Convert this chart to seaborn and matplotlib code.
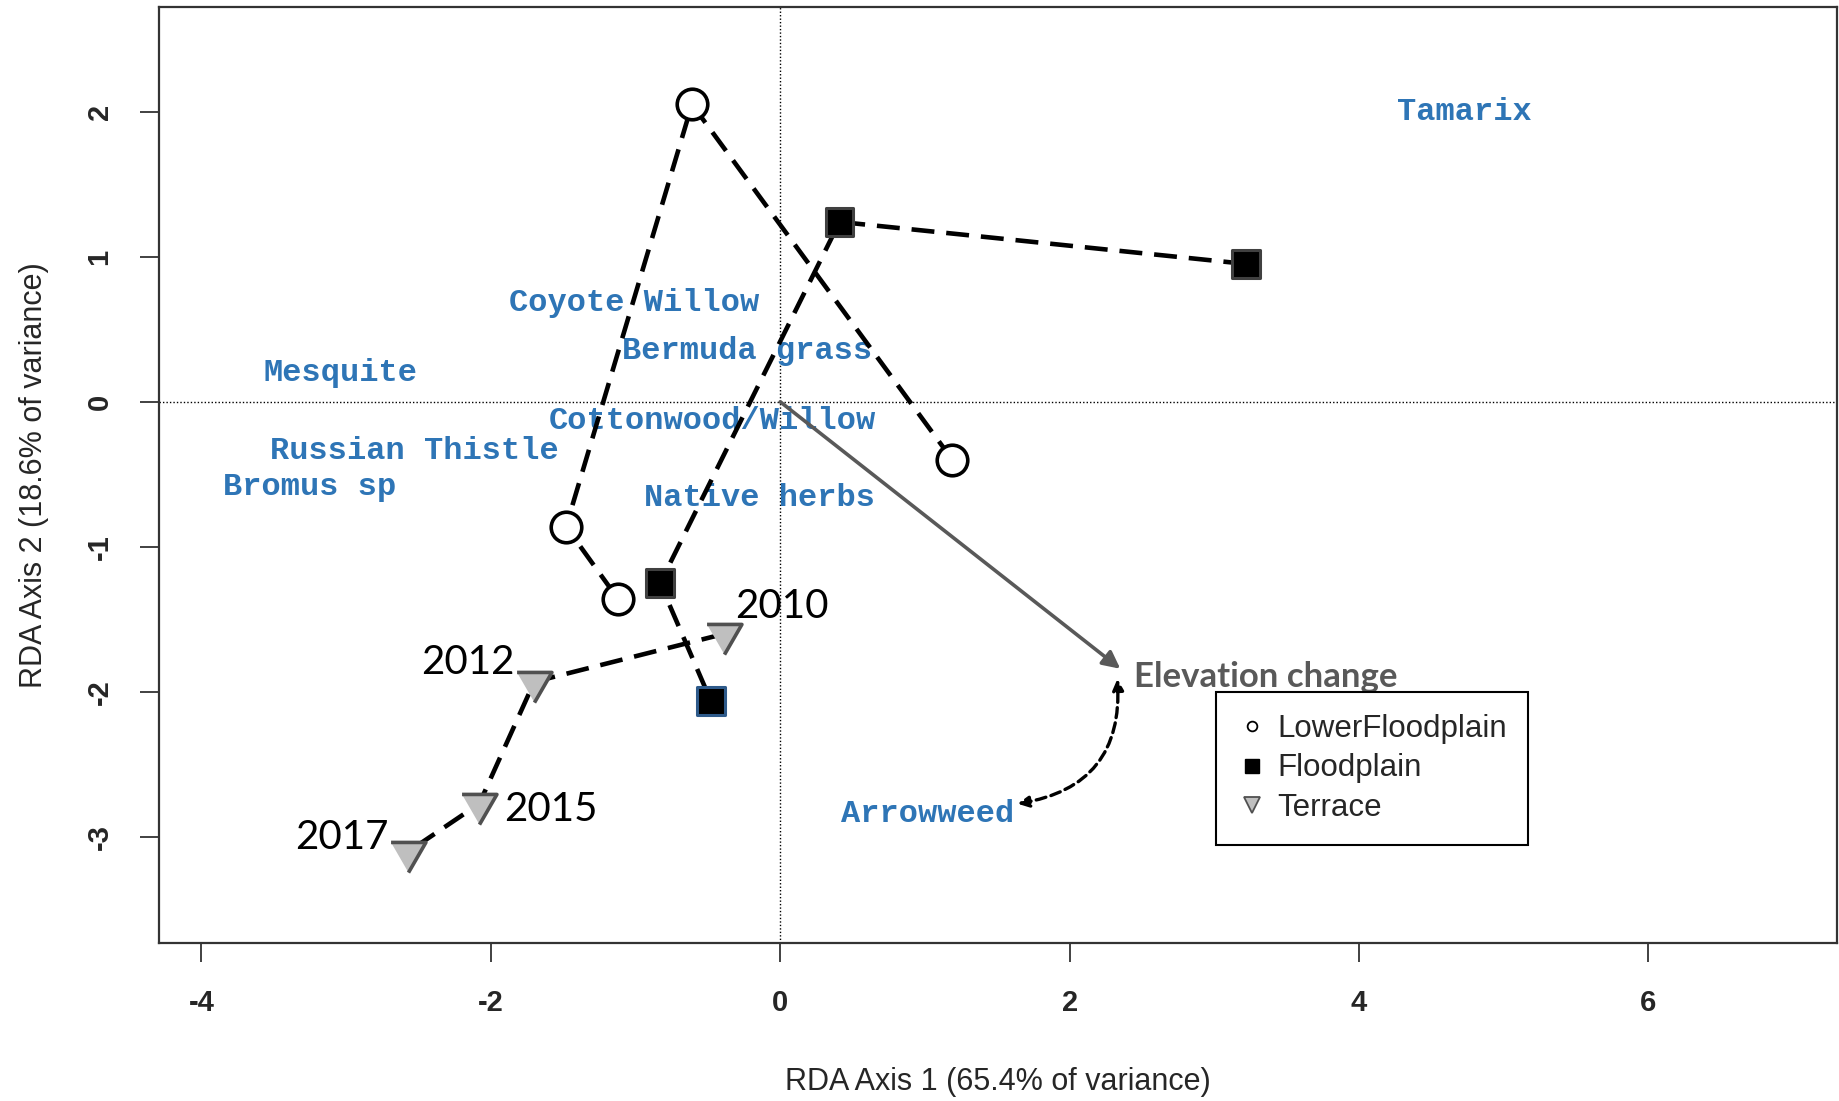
import matplotlib
matplotlib.use("Agg")
import matplotlib.pyplot as plt
import numpy as np
import pandas as pd
import seaborn as sns
from matplotlib.lines import Line2D

# Site scores per year (path order)
years = [2010, 2012, 2015, 2017]
lower_x = [1.19, -0.61, -1.48, -1.12]
lower_y = [-0.40, 2.05, -0.86, -1.36]
flood_x = [3.22, 0.41, -0.83, -0.48]
flood_y = [0.95, 1.24, -1.25, -2.06]
terrace_x = [-0.39, -1.70, -2.08, -2.57]
terrace_y = [-1.60, -1.93, -2.77, -3.10]

# Species scores
species = ["Tamarix", "Coyote Willow", "Bermuda grass", "Mesquite",
           "Cottonwood/Willow", "Russian Thistle", "Bromus sp",
           "Native herbs", "Arrowweed"]
species_x = [4.73, -1.01, -0.23, -3.04, -0.47, -2.53, -3.25, -0.14, 1.02]
species_y = [2.00, 0.68, 0.35, 0.20, -0.13, -0.34, -0.59, -0.66, -2.84]

# Environmental vector
env_name = "Elevation change"
env_x = 2.35
env_y = -1.84

site_names = ["LowerFloodplain", "Floodplain", "Terrace"]

sns.set_theme(style="white")
plt.rcParams["font.family"] = ["Liberation Sans", "DejaVu Sans"]
plt.rcParams["axes.unicode_minus"] = False

fig = plt.figure(figsize=(18.39, 11.01), dpi=100)
ax = fig.add_axes([0.0867, 0.1435, 0.912, 0.850])

BLUE = "#2E75B6"
GREY = "#595959"

# reference lines through the origin
ax.axhline(0, color="black", lw=1.0, ls=(0, (1, 1.5)), zorder=1)
ax.axvline(0, color="black", lw=1.0, ls=(0, (1, 1.5)), zorder=1)

# species labels
for name, sx, sy in zip(species, species_x, species_y):
    ax.text(sx, sy, name, color=BLUE, fontsize=23, fontweight="bold",
            family=["Liberation Mono", "DejaVu Sans Mono"],
            ha="center", va="center", zorder=2)

# trajectories
dash = (0, (5, 2.6))
for xs, ys in [(lower_x, lower_y), (flood_x, flood_y), (terrace_x, terrace_y)]:
    df = pd.DataFrame({"x": xs, "y": ys, "year": years})
    sns.lineplot(data=df, x="x", y="y", sort=False, estimator=None,
                 color="black", lw=3.3, linestyle=dash, ax=ax, zorder=3)

# environmental arrow
ax.annotate("", xy=(env_x, env_y), xytext=(0, 0),
            arrowprops=dict(arrowstyle="-|>", color=GREY, lw=2.6,
                            mutation_scale=26, shrinkA=0, shrinkB=0),
            zorder=4)
ax.annotate(env_name, xy=(env_x, env_y), xytext=(10, -6),
            textcoords="offset points", color=GREY, fontsize=25,
            fontweight="bold", family=["Lato", "DejaVu Sans"],
            ha="left", va="center", zorder=5)

# curved link between the species label and the vector tip
arr_i = species.index("Arrowweed")
ax.annotate("", xy=(env_x - 0.02, env_y - 0.07),
            xytext=(species_x[arr_i] + 0.62, species_y[arr_i] + 0.07),
            arrowprops=dict(arrowstyle="<|-|>", color="black", lw=2.4,
                            ls=(0, (3, 1.6)), mutation_scale=16,
                            shrinkA=0, shrinkB=0,
                            connectionstyle="arc3,rad=0.45"),
            zorder=4)

# site markers
tri = [(-1, 0.577), (1, 0.577), (0, -1.155)]
sns.scatterplot(x=lower_x, y=lower_y, marker="o", s=22 ** 2,
                color="white", edgecolor="black", linewidth=2.6,
                ax=ax, zorder=6)
sns.scatterplot(x=flood_x, y=flood_y, marker="s", s=20 ** 2,
                color="black",
                edgecolor=["#404040", "#404040", "#404040", "#2E5A8A"],
                linewidth=2.2, ax=ax, zorder=6)
sns.scatterplot(x=terrace_x, y=terrace_y, marker=tri, s=29 ** 2,
                color="#BFBFBF", edgecolor="#505050", linewidth=2.6,
                ax=ax, zorder=6)

# year labels for the terrace trajectory
year_offsets = [(8, 20, "left"), (-14, 14, "right"), (18, -4, "left"), (-14, 10, "right")]
for yr, tx, ty, (dx, dy, ha) in zip(years, terrace_x, terrace_y, year_offsets):
    ax.annotate(str(yr), xy=(tx, ty), xytext=(dx, dy), textcoords="offset points",
                fontsize=29, family=["Lato", "DejaVu Sans"], color="black",
                ha=ha, va="center", zorder=7)

ax.set_xlim(-4.29, 7.30)
ax.set_ylim(-3.73, 2.72)
ax.set_xticks([-4, -2, 0, 2, 4, 6])
ax.set_yticks([-3, -2, -1, 0, 1, 2])
ax.tick_params(axis="both", which="major", length=14, width=1.3,
               color="#333333", labelsize=21, pad=19, direction="out",
               bottom=True, left=True)
for lab in ax.get_xticklabels():
    lab.set_fontweight("bold")
for lab in ax.get_yticklabels():
    lab.set_fontweight("bold")
    lab.set_rotation(90)
    lab.set_va("center")

for sp in ax.spines.values():
    sp.set_color("#333333")
    sp.set_linewidth(1.6)

ax.set_xlabel("RDA Axis 1 (65.4% of variance)", fontsize=22, labelpad=36)
ax.set_ylabel("RDA Axis 2 (18.6% of variance)", fontsize=22, labelpad=26)

handles = [
    Line2D([], [], ls="none", marker="o", ms=7, mfc="white", mec="black", mew=1.3),
    Line2D([], [], ls="none", marker="s", ms=10, mfc="black", mec="black"),
    Line2D([], [], ls="none", marker="v", ms=11, mfc="#BFBFBF", mec="#505050", mew=1.3),
]
leg = ax.legend(handles, site_names, loc="upper left",
                bbox_to_anchor=(0.630, 0.268), borderaxespad=0,
                fontsize=22.5, frameon=True, fancybox=False,
                edgecolor="black", framealpha=1, labelspacing=0.3,
                handletextpad=0.35, borderpad=0.7, handlelength=0.9)
leg.get_frame().set_linewidth(1.5)
leg.set_zorder(8)

fig.savefig("out.png", dpi=100)
